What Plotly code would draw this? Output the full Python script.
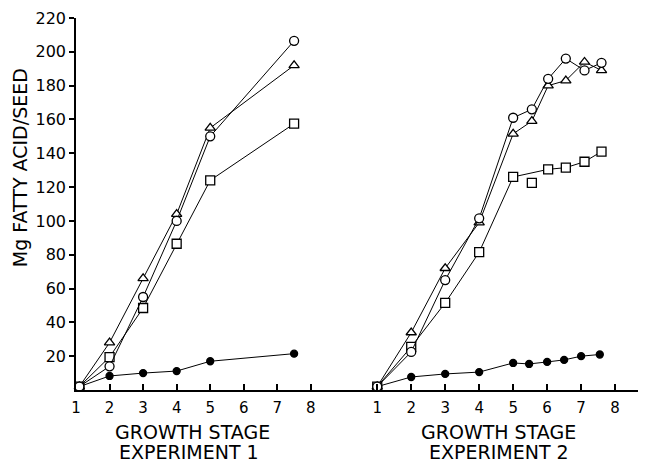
import plotly.graph_objects as go

# ---- Experiment 1 ----
e1_stage = [1.1, 2, 3, 4, 5, 7.5]
e1_circle = [2, 14, 55, 100, 150, 206.5]
e1_triangle = [2, 28, 66, 104, 155, 192]
e1_square = [2, 19.5, 48.5, 86.5, 124, 157.5]
e1_filled = [2, 8.3, 10, 11.2, 17, 21.5]

# ---- Experiment 2 ----
e2_stage = [1, 2, 3, 4, 5, 5.55, 6.03, 6.55, 7.1, 7.6]
e2_circle = [2, 22.5, 65, 101.5, 161, 166, 184, 196, 189, 193.5]
e2_triangle = [2, 34, 72, 99, 151.5, 159, 180, 183, 194, 189]
e2_square_stage = [1, 2, 3, 4, 5, 6.03, 6.55, 7.1, 7.6]
e2_square = [2, 25.5, 51.5, 81.5, 126, 130.5, 131.5, 135, 141]
e2_square_extra_stage = [5.55]
e2_square_extra = [122.5]
e2_filled_stage = [1, 2, 3, 4, 5, 5.47, 6, 6.5, 7, 7.55]
e2_filled = [2, 7.7, 9.5, 10.6, 16, 15.4, 16.6, 17.8, 20, 21]

y_ticks = list(range(20, 221, 20))
x_ticks = list(range(1, 9))

FONT = "DejaVu Sans"
fig = go.Figure()

def add(xs, ys, symbol, xa, filled=False, mode="lines+markers", size=9):
    fig.add_trace(go.Scatter(
        x=xs, y=ys, mode=mode, xaxis=xa, yaxis="y",
        line=dict(color="black", width=1),
        marker=dict(symbol=symbol, size=size,
                    color="black" if filled else "white",
                    line=dict(color="black", width=1.3)),
        showlegend=False, cliponaxis=False))

add(e1_stage, e1_filled, "circle", "x", filled=True, size=7)
add(e1_stage, e1_square, "square", "x")
add(e1_stage, e1_triangle, "triangle-up", "x")
add(e1_stage, e1_circle, "circle", "x")

add(e2_filled_stage, e2_filled, "circle", "x2", filled=True, size=7)
add(e2_square_stage, e2_square, "square", "x2")
add(e2_square_extra_stage, e2_square_extra, "square", "x2", mode="markers")
add(e2_stage, e2_triangle, "triangle-up", "x2")
add(e2_stage, e2_circle, "circle", "x2")

xtickfont = dict(family=FONT, size=15, color="black")
ytickfont = dict(family=FONT, size=16, color="black")
xcommon = dict(showline=True, linecolor="black", linewidth=1.5, ticks="inside",
               ticklen=6, tickwidth=1.5, tickcolor="black", tickvals=x_ticks,
               ticktext=[str(v) for v in x_ticks], showgrid=False, zeroline=False,
               tickfont=xtickfont, ticklabelstandoff=3)

title_font = dict(family=FONT, size=19, color="black")

# the page body has an 8px default margin, so the figure is sized to compensate
fig.update_layout(
    width=638, height=456,
    margin=dict(l=68, r=1, t=10, b=74),
    paper_bgcolor="white", plot_bgcolor="white",
    xaxis=dict(domain=[0, 0.447], range=[1, 8.58], anchor="y", **xcommon),
    xaxis2=dict(domain=[0.447, 1], range=[-0.38, 8.88], anchor="y", **xcommon),
    yaxis=dict(range=[0, 220], showline=True, linecolor="black", linewidth=1.5,
               ticks="outside", ticklen=5, tickwidth=1.5, tickcolor="black",
               tickvals=y_ticks, showgrid=False, zeroline=False, tickfont=ytickfont),
    annotations=[
        dict(text="Mg FATTY ACID/SEED", xref="paper", yref="paper", x=-0.098, y=0.597,
             textangle=-90, showarrow=False, font=title_font,
             xanchor="center", yanchor="middle"),
        dict(text="GROWTH STAGE", xref="paper", yref="paper", x=0.205, y=-0.1116,
             showarrow=False, font=title_font, xanchor="center", yanchor="middle"),
        dict(text="EXPERIMENT 1", xref="paper", yref="paper", x=0.199, y=-0.167,
             showarrow=False, font=title_font, xanchor="center", yanchor="middle"),
        dict(text="GROWTH STAGE", xref="paper", yref="paper", x=0.742, y=-0.1116,
             showarrow=False, font=title_font, xanchor="center", yanchor="middle"),
        dict(text="EXPERIMENT 2", xref="paper", yref="paper", x=0.743, y=-0.167,
             showarrow=False, font=title_font, xanchor="center", yanchor="middle"),
    ],
)

fig.write_html("out.html")
